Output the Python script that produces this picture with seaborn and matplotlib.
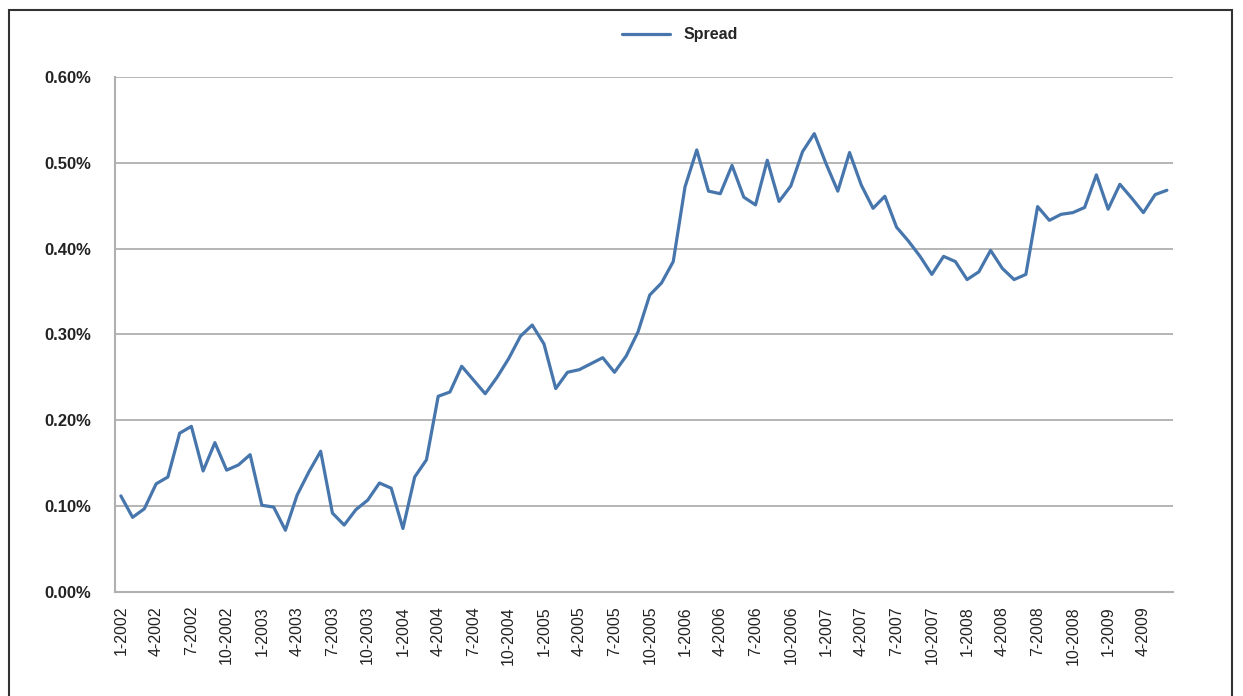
import numpy as np
import pandas as pd
import matplotlib
matplotlib.use('Agg')
import matplotlib.pyplot as plt
import seaborn as sns
from matplotlib.patches import Rectangle

# Monthly spread, 1-2002 .. 6-2009 (in percent)
years = [2002, 2003, 2004, 2005, 2006, 2007, 2008, 2009]
spread = [
    0.112, 0.087, 0.097, 0.126, 0.134, 0.185, 0.193, 0.141, 0.174, 0.142, 0.148, 0.160,  # 2002
    0.101, 0.099, 0.072, 0.113, 0.140, 0.164, 0.092, 0.078, 0.096, 0.107, 0.127, 0.121,  # 2003
    0.074, 0.134, 0.154, 0.228, 0.233, 0.263, 0.247, 0.231, 0.250, 0.272, 0.298, 0.311,  # 2004
    0.289, 0.237, 0.256, 0.259, 0.266, 0.273, 0.256, 0.275, 0.303, 0.346, 0.360, 0.385,  # 2005
    0.472, 0.515, 0.467, 0.464, 0.497, 0.460, 0.451, 0.503, 0.455, 0.473, 0.513, 0.534,  # 2006
    0.499, 0.467, 0.512, 0.474, 0.447, 0.461, 0.425, 0.409, 0.391, 0.370, 0.391, 0.385,  # 2007
    0.364, 0.373, 0.398, 0.377, 0.364, 0.370, 0.449, 0.433, 0.440, 0.442, 0.448, 0.486,  # 2008
    0.446, 0.475, 0.459, 0.442, 0.463, 0.468,                                            # 2009
]
months = [f'{m}-{y}' for y in years for m in range(1, 13)][:len(spread)]
y_ticks = [0.0, 0.1, 0.2, 0.3, 0.4, 0.5, 0.6]

df = pd.DataFrame({'idx': np.arange(len(spread)), 'Spread': spread})

sns.set_style('white')
plt.rcParams['font.family'] = ['Liberation Sans', 'DejaVu Sans']

fig = plt.figure(figsize=(12.43, 6.96), dpi=100)
ax = fig.add_axes([0.0925, 0.1494, 0.851, 0.74])

sns.lineplot(data=df, x='idx', y='Spread', color='#4776ad', linewidth=2.3, ax=ax, label='Spread')

n = len(spread)
ax.set_xlim(-0.5, n - 0.5)
ax.set_ylim(0, 0.6)
ax.set_yticks(y_ticks)
ax.set_yticklabels([f'{v:.2f}%' for v in y_ticks], fontsize=12, fontweight='bold', color='#222222')
ax.yaxis.grid(True, color='#b0b0b0', linewidth=1.3)
ax.tick_params(axis='y', length=0, pad=17)

lab_idx = list(range(0, n, 3))
ax.set_xticks(lab_idx)
ax.set_xticklabels([months[i] for i in lab_idx], rotation=90, fontsize=11.5, color='#222222')
ax.set_xticks(np.arange(-0.5, n, 1), minor=True)
ax.tick_params(axis='x', which='major', length=0, pad=10)
ax.tick_params(axis='x', which='minor', length=6, direction='inout', color='#b8b8b8', width=1)
ax.set_xlabel('')
ax.set_ylabel('')

for side in ['top', 'right']:
    ax.spines[side].set_visible(False)
for side in ['left', 'bottom']:
    ax.spines[side].set_color('#b0b0b0')
    ax.spines[side].set_linewidth(1.5)

leg = ax.legend(loc='center', bbox_to_anchor=(0.547, 0.95), bbox_transform=fig.transFigure,
                frameon=False, prop={'size': 11.5, 'weight': 'bold'}, handlelength=3)

# outer frame
fig.patches.append(Rectangle((0.007, -0.01), 0.984, 0.996, transform=fig.transFigure,
                             fill=False, edgecolor='#333333', linewidth=1.5))

fig.savefig('out.png', dpi=100)
